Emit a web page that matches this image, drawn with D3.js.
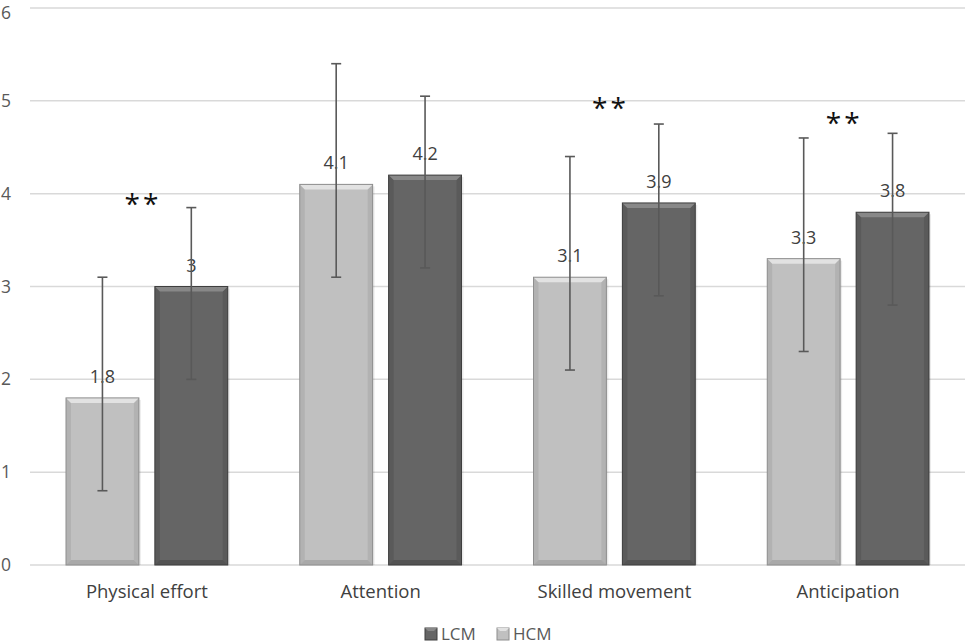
<!DOCTYPE html>
<html>
<head>
<meta charset="utf-8">
<script src="https://cdn.jsdelivr.net/npm/d3@7"></script>
<style>
  body { margin: 0; background: #fff; }
  text { font-family: "Open Sans", "Liberation Sans", sans-serif; }
</style>
</head>
<body>
<div id="container"></div>
<script>
// chart values
var categories = ["Physical effort", "Attention", "Skilled movement", "Anticipation"];
var series = ["HCM", "LCM"];          // drawn left (light) then right (dark)
var legendOrder = ["LCM", "HCM"];
var hcmValues = [1.8, 4.1, 3.1, 3.3];
var lcmValues = [3, 4.2, 3.9, 3.8];
var hcmLow = [0.8, 3.1, 2.1, 2.3];
var hcmHigh = [3.1, 5.4, 4.4, 4.6];
var lcmLow = [2.0, 3.2, 2.9, 2.8];
var lcmHigh = [3.85, 5.05, 4.75, 4.65];
var starLevel = [3.92, null, 4.95, 4.79];   // where the "**" marks sit
var yTicks = [0, 1, 2, 3, 4, 5, 6];

var width = 965, height = 644;
var margin = {top: 8, right: 0, bottom: 79, left: 30};

var colors = {
  HCM: {face: "#c0c0c0", top: "#e2e2e2", side: "#b2b2b2", edge: "#8e8e8e"},
  LCM: {face: "#656565", top: "#888888", side: "#5a5a5a", edge: "#3f3f3f"}
};

var svg = d3.select("#container").append("svg")
  .attr("width", width)
  .attr("height", height);

var x0 = d3.scaleBand().domain(categories)
  .range([margin.left, width - margin.right]);
var x1 = d3.scaleBand().domain(series)
  .range([36, x0.bandwidth() - 36])
  .paddingInner(0.18);
var y = d3.scaleLinear().domain([0, 6]).range([height - margin.bottom, margin.top]);

// gridlines
svg.append("g").selectAll("line")
  .data(yTicks).enter().append("line")
    .attr("x1", margin.left)
    .attr("x2", width)
    .attr("y1", function(d) { return y(d); })
    .attr("y2", function(d) { return y(d); })
    .style("stroke", "#d9d9d9")
    .style("stroke-width", 1.5);

// y axis labels (top one nudged down so it stays inside the frame)
svg.append("g").selectAll("text")
  .data(yTicks).enter().append("text")
    .attr("x", 11)
    .attr("y", function(d) { return Math.max(y(d), 12.8); })
    .attr("dy", "0.35em")
    .style("text-anchor", "end")
    .style("font-size", "17.5px")
    .style("fill", "#595959")
    .text(function(d) { return d; });

// category labels
svg.append("g").selectAll("text")
  .data(categories).enter().append("text")
    .attr("x", function(d) { return x0(d) + x0.bandwidth() / 2; })
    .attr("y", 598)
    .style("text-anchor", "middle")
    .style("font-size", "18.5px")
    .style("fill", "#404040")
    .text(function(d) { return d; });

// flatten data for bars
var rows = [];
categories.forEach(function(c, i) {
  rows.push({cat: c, s: "HCM", v: hcmValues[i], lo: hcmLow[i], hi: hcmHigh[i]});
  rows.push({cat: c, s: "LCM", v: lcmValues[i], lo: lcmLow[i], hi: lcmHigh[i]});
});

var bars = svg.append("g").selectAll("g")
  .data(rows).enter().append("g")
    .attr("transform", function(d) { return "translate(" + (x0(d.cat) + x1(d.s)) + ",0)"; });

var bw = x1.bandwidth();
var bev = 5;

// faint shadow
bars.append("rect")
  .attr("x", 2).attr("y", function(d) { return y(d.v) + 2; })
  .attr("width", bw).attr("height", function(d) { return y(0) - y(d.v) - 2; })
  .style("fill", "#000").style("opacity", 0.08);

// main face
bars.append("rect")
  .attr("x", 0).attr("y", function(d) { return y(d.v); })
  .attr("width", bw).attr("height", function(d) { return y(0) - y(d.v); })
  .style("fill", function(d) { return colors[d.s].face; });

// left & right bevel sides
bars.append("path")
  .attr("d", function(d) {
    var t = y(d.v), b = y(0);
    return "M0," + t + "L" + bev + "," + (t + bev) + "L" + bev + "," + (b - bev) + "L0," + b + "Z";
  })
  .style("fill", function(d) { return colors[d.s].side; });
bars.append("path")
  .attr("d", function(d) {
    var t = y(d.v), b = y(0);
    return "M" + bw + "," + t + "L" + (bw - bev) + "," + (t + bev) + "L" + (bw - bev) + "," + (b - bev) + "L" + bw + "," + b + "Z";
  })
  .style("fill", function(d) { return colors[d.s].side; });

// top bevel
bars.append("path")
  .attr("d", function(d) {
    var t = y(d.v);
    return "M0," + t + "L" + bw + "," + t + "L" + (bw - bev) + "," + (t + bev) + "L" + bev + "," + (t + bev) + "Z";
  })
  .style("fill", function(d) { return colors[d.s].top; });

// bottom bevel
bars.append("path")
  .attr("d", function(d) {
    var b = y(0);
    return "M0," + b + "L" + bw + "," + b + "L" + (bw - bev) + "," + (b - bev) + "L" + bev + "," + (b - bev) + "Z";
  })
  .style("fill", function(d) { return colors[d.s].edge; })
  .style("opacity", 0.45);

// outline
bars.append("rect")
  .attr("x", 0).attr("y", function(d) { return y(d.v); })
  .attr("width", bw).attr("height", function(d) { return y(0) - y(d.v); })
  .style("fill", "none")
  .style("stroke", function(d) { return colors[d.s].edge; })
  .style("stroke-width", 1);

// value labels
bars.append("text")
  .attr("x", bw / 2)
  .attr("y", function(d) { return y(d.v) - 15; })
  .style("text-anchor", "middle")
  .style("font-size", "18px")
  .style("fill", "#404040")
  .text(function(d) { return d.v; });

// error bars
var err = bars.append("g")
  .style("stroke", "#595959")
  .style("stroke-width", 1.6);
err.append("line")
  .attr("x1", bw / 2).attr("x2", bw / 2)
  .attr("y1", function(d) { return y(d.lo); })
  .attr("y2", function(d) { return y(d.hi); });
err.append("line")
  .attr("x1", bw / 2 - 5).attr("x2", bw / 2 + 5)
  .attr("y1", function(d) { return y(d.lo); })
  .attr("y2", function(d) { return y(d.lo); });
err.append("line")
  .attr("x1", bw / 2 - 5).attr("x2", bw / 2 + 5)
  .attr("y1", function(d) { return y(d.hi); })
  .attr("y2", function(d) { return y(d.hi); });

// significance stars
svg.append("g").selectAll("text")
  .data(categories.filter(function(c, i) { return starLevel[i] != null; })).enter()
  .append("text")
    .attr("x", function(d) { return x0(d) + x0.bandwidth() / 2 - 4; })
    .attr("y", function(d) { return y(starLevel[categories.indexOf(d)]) + 13; })
    .style("text-anchor", "middle")
    .style("font-size", "28px")
    .style("letter-spacing", "3px")
    .style("fill", "#111")
    .text("**");

// legend
var legend = svg.append("g").selectAll("g")
  .data(legendOrder).enter().append("g")
    .attr("transform", function(d, i) { return "translate(" + (425 + i * 72) + ",634)"; });
legend.append("rect")
  .attr("x", 0).attr("y", -6)
  .attr("width", 12).attr("height", 12)
  .style("fill", function(d) { return colors[d].face; })
  .style("stroke", function(d) { return colors[d].edge; });
legend.append("path")
  .attr("d", "M0,-6L12,-6L9,-3L3,-3Z")
  .style("fill", function(d) { return colors[d].top; });
legend.append("text")
  .attr("x", 16)
  .attr("y", 6)
  .style("font-size", "17px")
  .style("fill", "#595959")
  .text(function(d) { return d; });
</script>
</body>
</html>
